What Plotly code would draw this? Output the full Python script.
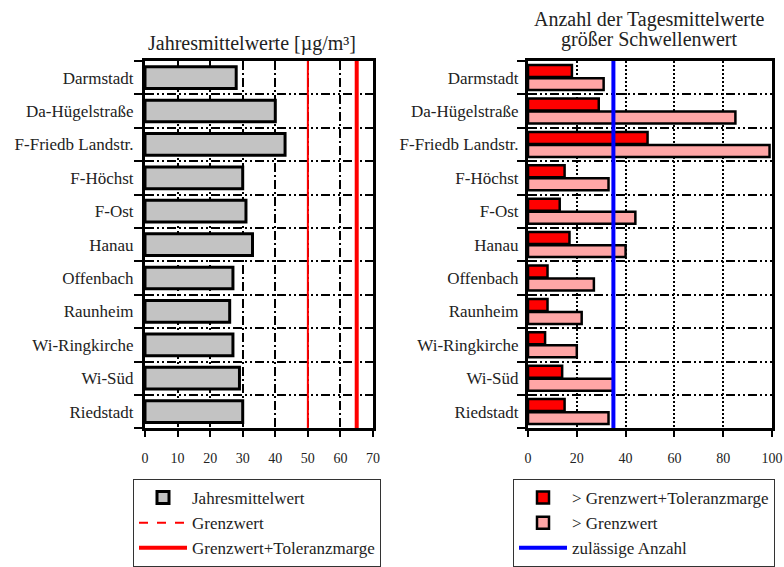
import plotly.graph_objects as go

stations = ["Darmstadt", "Da-Hügelstraße", "F-Friedb Landstr.", "F-Höchst", "F-Ost",
            "Hanau", "Offenbach", "Raunheim", "Wi-Ringkirche", "Wi-Süd", "Riedstadt"]
annual_mean = [28, 40, 43, 30, 31, 33, 27, 26, 27, 29, 30]
days_over_tolerance = [18, 29, 49, 15, 13, 17, 8, 8, 7, 14, 15]
days_over_limit = [31, 85, 99, 33, 44, 40, 27, 22, 20, 35, 33]
limit_value = 50
limit_plus_tolerance = 65
allowed_days = 35
left_ticks = [0, 10, 20, 30, 40, 50, 60, 70]
right_ticks = [0, 20, 40, 60, 80, 100]

pos = list(range(len(stations)))
FONT = "Liberation Serif"

fig = go.Figure()

# Left panel
fig.add_trace(go.Bar(
    x=annual_mean, y=pos, orientation="h", width=0.65,
    marker=dict(color="#c3c3c3", line=dict(color="black", width=3)),
    name="Jahresmittelwert", legend="legend", xaxis="x", yaxis="y"))
fig.add_trace(go.Scatter(
    x=[limit_value, limit_value], y=[-0.5, len(stations) - 0.5], mode="lines",
    line=dict(color="#ff0000", width=2), showlegend=False, hoverinfo="skip",
    xaxis="x", yaxis="y"))
fig.add_trace(go.Scatter(
    x=[None], y=[None], mode="lines", line=dict(color="#ff0000", width=2, dash="dash"),
    name="Grenzwert", legend="legend", xaxis="x", yaxis="y"))
fig.add_trace(go.Scatter(
    x=[limit_plus_tolerance, limit_plus_tolerance], y=[-0.5, len(stations) - 0.5], mode="lines",
    line=dict(color="#ff0000", width=4),
    name="Grenzwert+Toleranzmarge", legend="legend", xaxis="x", yaxis="y"))

# Right panel
fig.add_trace(go.Bar(
    x=days_over_tolerance, y=pos, orientation="h",
    marker=dict(color="#ff0000", line=dict(color="black", width=2.5)),
    name="> Grenzwert+Toleranzmarge", legend="legend2", xaxis="x2", yaxis="y2"))
fig.add_trace(go.Bar(
    x=days_over_limit, y=pos, orientation="h",
    marker=dict(color="#ffa6a6", line=dict(color="black", width=2.5)),
    name="> Grenzwert", legend="legend2", xaxis="x2", yaxis="y2"))
fig.add_trace(go.Scatter(
    x=[allowed_days, allowed_days], y=[-0.5, len(stations) - 0.5], mode="lines",
    line=dict(color="#0000ff", width=4),
    name="zulässige Anzahl", legend="legend2", xaxis="x2", yaxis="y2"))

ydom = [1 - 436 / 567, 1 - 62 / 567]
HDASH = "9px,3px,2px,3px,2px,3px"

def xaxis(dom, rng, ticks, griddash):
    return dict(domain=dom, range=rng, tickvals=ticks, ticks="outside", ticklen=6,
                tickwidth=2, tickcolor="black", showgrid=True, gridcolor="black",
                gridwidth=1.5, griddash=griddash, showline=True, mirror=True,
                linewidth=3, linecolor="black", zeroline=False, automargin=False,
                tickfont=dict(size=14, family=FONT, color="#222222"),
                ticklabelstandoff=9, fixedrange=True)

def yaxis(anchor, standoff):
    return dict(domain=ydom, anchor=anchor, range=[len(stations) - 0.5, -0.5],
                tickvals=pos, ticktext=stations, ticks="", showgrid=False,
                minor=dict(tickmode="linear", tick0=0.5, dtick=1, ticks="outside",
                           ticklen=8, tickwidth=2, tickcolor="black", showgrid=True,
                           gridcolor="black", gridwidth=1.5, griddash=HDASH),
                showline=True, mirror=True, linewidth=3, linecolor="black",
                zeroline=False, automargin=False, ticklabelstandoff=standoff,
                tickfont=dict(size=17, family=FONT, color="#222222"), fixedrange=True)

legend_common = dict(yanchor="top", xanchor="left", bordercolor="#333333", borderwidth=1,
                     bgcolor="white", font=dict(size=17, family=FONT, color="#222222"),
                     itemwidth=48, traceorder="normal", tracegroupgap=0)

fig.update_layout(
    width=784, height=567,
    margin=dict(l=0, r=0, t=0, b=0),
    paper_bgcolor="white", plot_bgcolor="white",
    font=dict(family=FONT, color="black", size=17),
    barmode="group", bargap=0.22, bargroupgap=0.08,
    xaxis=dict(xaxis([145 / 784, 373 / 784], [0, 70], left_ticks, "9px,3px,2px,3px"), anchor="y"),
    yaxis=yaxis("x", 5),
    xaxis2=dict(xaxis([528 / 784, 772 / 784], [0, 100], right_ticks, "2px,2px"), anchor="y2"),
    yaxis2=yaxis("x2", 3),
    legend=dict(legend_common, x=133 / 784, y=1 - 488 / 567),
    legend2=dict(legend_common, x=513 / 784, y=1 - 488 / 567),
    annotations=[
        dict(text="Jahresmittelwerte [µg/m³]", x=252 / 784, y=1 - 44 / 567,
             xref="paper", yref="paper", showarrow=False, xanchor="center",
             yanchor="middle", font=dict(size=20, family=FONT, color="#222222")),
        dict(text="Anzahl der Tagesmittelwerte", x=649 / 784, y=1 - 20 / 567,
             xref="paper", yref="paper", showarrow=False, xanchor="center",
             yanchor="middle", font=dict(size=20, family=FONT, color="#222222")),
        dict(text="größer Schwellenwert", x=649 / 784, y=1 - 40 / 567,
             xref="paper", yref="paper", showarrow=False, xanchor="center",
             yanchor="middle", font=dict(size=20, family=FONT, color="#222222")),
    ],
)

fig.write_html("out.html", config={"displayModeBar": False, "staticPlot": False},
               post_script="document.body.style.margin='0';document.body.style.overflow='hidden';")
